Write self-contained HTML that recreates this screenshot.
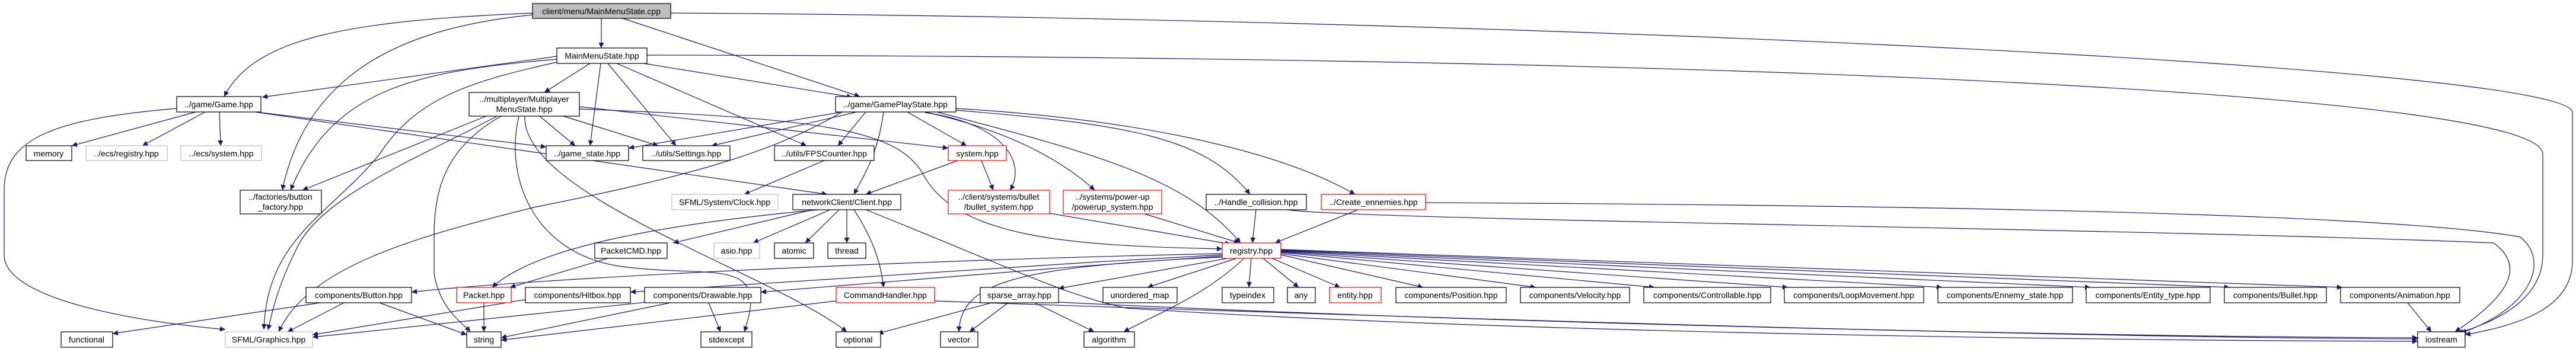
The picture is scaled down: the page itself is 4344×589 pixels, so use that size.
<!DOCTYPE html>
<html><head><meta charset="utf-8"><style>
html,body{margin:0;padding:0;background:#fff;}
svg{display:block;}
text{font-family:"Liberation Sans",sans-serif;font-size:14px;fill:#000;text-anchor:middle;}
.e{fill:none;stroke:#191970;stroke-width:1.2;marker-end:url(#a);}
.n{fill:#fff;stroke:#000;stroke-width:1.2;}
.g{fill:#fff;stroke:#bfbfbf;stroke-width:1.2;}
.r{fill:#fff;stroke:#ff0000;stroke-width:1.2;}
</style></head><body>
<svg width="4344" height="589" viewBox="0 0 4344 589" xmlns="http://www.w3.org/2000/svg">
<defs><marker id="a" viewBox="0 0 10 10" refX="10" refY="5" markerWidth="11" markerHeight="9" markerUnits="userSpaceOnUse" orient="auto"><path d="M0,0 L10,5 L0,10 z" fill="#191970"/></marker></defs>
<g>
<path class="e" d="M1014 31 L1014 81"/>
<path class="e" d="M898 22 C600 35 430 60 378 163"/>
<path class="e" d="M898 25 C700 45 520 110 476 321"/>
<path class="e" d="M1050 31 L1450 163"/>
<path class="e" d="M1131 22 C2500 30 4338 110 4338 190 L4338 440 C4338 520 4250 548 4157 565"/>
<path class="e" d="M939 95 L442 164"/>
<path class="e" d="M995 107 L918 156"/>
<path class="e" d="M1013 107 L995 246"/>
<path class="e" d="M1025 107 L1140 246"/>
<path class="e" d="M1040 107 L1360 246"/>
<path class="e" d="M1085 107 L1437 164"/>
<path class="e" d="M939 100 C700 120 560 150 490 321"/>
<path class="e" d="M939 105 C780 140 700 170 640 260 C560 360 450 400 445 556"/>
<path class="e" d="M1091 93 C3000 95 4288 160 4288 260 L4288 430 C4288 500 4220 540 4145 562"/>
<path class="e" d="M330 189 L121 246"/>
<path class="e" d="M346 189 L240 246"/>
<path class="e" d="M370 189 L372 246"/>
<path class="e" d="M298 183 C100 200 7 230 7 320 L7 430 C7 500 200 540 380 556"/>
<path class="e" d="M440 190 L921 248"/>
<path class="e" d="M430 189 L1395 328"/>
<path class="e" d="M910 196 L970 246"/>
<path class="e" d="M950 196 L1110 246"/>
<path class="e" d="M820 196 L510 321"/>
<path class="e" d="M838 196 C720 260 540 330 500 420 C470 480 460 520 452 557"/>
<path class="e" d="M845 196 C750 250 732 320 732 400 L732 460 C740 520 780 545 793 560"/>
<path class="e" d="M875 196 C850 300 900 430 1050 450 C1200 470 1300 430 1255 560"/>
<path class="e" d="M885 196 C880 330 1300 460 1428 560"/>
<path class="e" d="M977 180 L1599 250"/>
<path class="e" d="M977 184 C1400 200 1520 220 1560 300 C1620 400 1800 415 2061 420"/>
<path class="e" d="M1420 189 L1060 250"/>
<path class="e" d="M1445 189 L1200 246"/>
<path class="e" d="M1460 189 L1413 246"/>
<path class="e" d="M1490 189 C1480 260 1460 290 1440 328"/>
<path class="e" d="M1530 189 L1630 246"/>
<path class="e" d="M1560 190 C1700 210 1730 280 1703 321"/>
<path class="e" d="M1560 189 C1700 220 1790 270 1846 321"/>
<path class="e" d="M1580 189 C1850 260 2000 300 2092 410"/>
<path class="e" d="M1612 186 C1900 210 2030 230 2108 328"/>
<path class="e" d="M1612 183 C1900 200 2150 250 2285 328"/>
<path class="e" d="M1420 189 C1300 260 1150 300 900 350 C700 400 520 450 470 560"/>
<path class="e" d="M1390 271 L1255 328"/>
<path class="e" d="M1615 271 L1460 328"/>
<path class="e" d="M1655 271 L1675 321"/>
<path class="e" d="M1370 354 L1135 410"/>
<path class="e" d="M1380 354 C1100 380 900 420 830 485"/>
<path class="e" d="M1400 354 L1270 410"/>
<path class="e" d="M1415 354 L1358 410"/>
<path class="e" d="M1428 354 L1428 410"/>
<path class="e" d="M1440 354 C1470 400 1485 440 1490 485"/>
<path class="e" d="M1460 354 C1700 450 1800 500 1900 520 C2500 560 3500 575 4077 576"/>
<path class="e" d="M1770 360 L2075 412"/>
<path class="e" d="M1930 361 L2090 410"/>
<path class="e" d="M2118 354 L2112 410"/>
<path class="e" d="M2290 354 L2150 410"/>
<path class="e" d="M2170 354 C2300 372 3600 385 4205 410 C4260 450 4230 500 4140 560"/>
<path class="e" d="M2404 342 C3000 345 4000 355 4250 400 C4300 440 4270 520 4150 562"/>
<path class="e" d="M2061 428 C1500 440 900 470 694 493"/>
<path class="e" d="M2061 430 C1700 450 1300 475 1063 493"/>
<path class="e" d="M2061 432 C1800 450 1500 475 1283 493"/>
<path class="e" d="M2070 436 L1785 487"/>
<path class="e" d="M2085 436 L1935 485"/>
<path class="e" d="M2110 436 L2106 485"/>
<path class="e" d="M2130 436 L2190 485"/>
<path class="e" d="M2145 436 L2260 485"/>
<path class="e" d="M2160 430 L2400 485"/>
<path class="e" d="M2160 428 L2590 485"/>
<path class="e" d="M2160 426 L2790 485"/>
<path class="e" d="M2160 425 L3015 485"/>
<path class="e" d="M2160 424 L3275 485"/>
<path class="e" d="M2160 423 L3525 485"/>
<path class="e" d="M2160 422 L3760 485"/>
<path class="e" d="M2160 421 L3950 485"/>
<path class="e" d="M2061 434 C1700 450 1620 480 1617 560"/>
<path class="e" d="M2098 436 C2030 500 1950 530 1895 560"/>
<path class="e" d="M540 511 L190 563"/>
<path class="e" d="M580 511 L485 560"/>
<path class="e" d="M640 511 L787 565"/>
<path class="e" d="M816 511 L816 560"/>
<path class="e" d="M1025 436 L860 485"/>
<path class="e" d="M890 505 L527 565"/>
<path class="e" d="M1100 509 L527 569"/>
<path class="e" d="M1130 511 L845 570"/>
<path class="e" d="M1195 511 L1215 560"/>
<path class="e" d="M1410 508 L845 574"/>
<path class="e" d="M1576 508 C2500 540 3500 570 4077 572"/>
<path class="e" d="M1672 511 L1480 563"/>
<path class="e" d="M1700 511 L1635 560"/>
<path class="e" d="M1745 511 L1845 560"/>
<path class="e" d="M1785 510 C2500 545 3500 568 4077 570"/>
<path class="e" d="M4060 511 L4100 560"/>
</g>
<g>
<rect x="898" y="6" width="233" height="25" fill="#bfbfbf" stroke="#000" stroke-width="1.2"/><text x="1014" y="24">client/menu/MainMenuState.cpp</text>
<rect class="n" x="939" y="81" width="152" height="26"/><text x="1015" y="99">MainMenuState.hpp</text>
<rect class="n" x="298" y="163" width="142" height="26"/><text x="369" y="181">../game/Game.hpp</text>
<rect class="n" x="791" y="156" width="186" height="40"/><text x="884" y="172">../multiplayer/Multiplayer</text><text x="884" y="189">MenuState.hpp</text>
<rect class="n" x="1409" y="163" width="203" height="26"/><text x="1510" y="181">../game/GamePlayState.hpp</text>
<rect class="n" x="44" y="246" width="77" height="25"/><text x="82" y="264">memory</text>
<rect class="g" x="145" y="246" width="137" height="25"/><text x="213" y="264">../ecs/registry.hpp</text>
<rect class="g" x="305" y="246" width="136" height="25"/><text x="373" y="264">../ecs/system.hpp</text>
<rect class="n" x="921" y="246" width="139" height="25"/><text x="990" y="264">../game_state.hpp</text>
<rect class="n" x="1084" y="246" width="147" height="25"/><text x="1157" y="264">../utils/Settings.hpp</text>
<rect class="n" x="1306" y="246" width="168" height="25"/><text x="1390" y="264">../utils/FPSCounter.hpp</text>
<rect class="r" x="1599" y="246" width="98" height="25"/><text x="1648" y="264">system.hpp</text>
<rect class="n" x="405" y="321" width="137" height="40"/><text x="473" y="337">../factories/button</text><text x="473" y="354">_factory.hpp</text>
<rect class="g" x="1133" y="328" width="179" height="26"/><text x="1222" y="346">SFML/System/Clock.hpp</text>
<rect class="n" x="1337" y="328" width="182" height="26"/><text x="1428" y="346">networkClient/Client.hpp</text>
<rect class="r" x="1599" y="321" width="171" height="40"/><text x="1684" y="337">../client/systems/bullet</text><text x="1684" y="354">/bullet_system.hpp</text>
<rect class="r" x="1793" y="321" width="166" height="40"/><text x="1876" y="337">../systems/power-up</text><text x="1876" y="354">/powerup_system.hpp</text>
<rect class="n" x="2034" y="328" width="169" height="26"/><text x="2118" y="346">../Handle_collision.hpp</text>
<rect class="r" x="2228" y="328" width="176" height="26"/><text x="2316" y="346">../Create_ennemies.hpp</text>
<rect class="n" x="1003" y="410" width="122" height="26"/><text x="1064" y="428">PacketCMD.hpp</text>
<rect class="g" x="1204" y="410" width="77" height="26"/><text x="1242" y="428">asio.hpp</text>
<rect class="n" x="1306" y="410" width="66" height="26"/><text x="1339" y="428">atomic</text>
<rect class="n" x="1396" y="410" width="64" height="26"/><text x="1428" y="428">thread</text>
<rect class="r" x="2061" y="410" width="99" height="26"/><text x="2110" y="428">registry.hpp</text>
<rect class="n" x="516" y="485" width="178" height="26"/><text x="605" y="503">components/Button.hpp</text>
<rect class="r" x="770" y="485" width="92" height="26"/><text x="816" y="503">Packet.hpp</text>
<rect class="n" x="886" y="485" width="177" height="26"/><text x="974" y="503">components/Hitbox.hpp</text>
<rect class="n" x="1087" y="485" width="196" height="26"/><text x="1185" y="503">components/Drawable.hpp</text>
<rect class="r" x="1410" y="485" width="166" height="26"/><text x="1493" y="503">CommandHandler.hpp</text>
<rect class="n" x="1653" y="485" width="132" height="26"/><text x="1719" y="503">sparse_array.hpp</text>
<rect class="n" x="1860" y="485" width="125" height="26"/><text x="1922" y="503">unordered_map</text>
<rect class="n" x="2061" y="485" width="87" height="26"/><text x="2104" y="503">typeindex</text>
<rect class="n" x="2171" y="485" width="47" height="26"/><text x="2194" y="503">any</text>
<rect class="r" x="2242" y="485" width="87" height="26"/><text x="2285" y="503">entity.hpp</text>
<rect class="n" x="2354" y="485" width="186" height="26"/><text x="2447" y="503">components/Position.hpp</text>
<rect class="n" x="2564" y="485" width="184" height="26"/><text x="2656" y="503">components/Velocity.hpp</text>
<rect class="n" x="2772" y="485" width="214" height="26"/><text x="2879" y="503">components/Controllable.hpp</text>
<rect class="n" x="3009" y="485" width="235" height="26"/><text x="3126" y="503">components/LoopMovement.hpp</text>
<rect class="n" x="3268" y="485" width="227" height="26"/><text x="3381" y="503">components/Ennemy_state.hpp</text>
<rect class="n" x="3518" y="485" width="209" height="26"/><text x="3622" y="503">components/Entity_type.hpp</text>
<rect class="n" x="3751" y="485" width="172" height="26"/><text x="3837" y="503">components/Bullet.hpp</text>
<rect class="n" x="3947" y="485" width="201" height="26"/><text x="4047" y="503">components/Animation.hpp</text>
<rect class="n" x="103" y="560" width="87" height="26"/><text x="146" y="578">functional</text>
<rect class="g" x="380" y="560" width="147" height="26"/><text x="453" y="578">SFML/Graphics.hpp</text>
<rect class="n" x="787" y="560" width="58" height="26"/><text x="816" y="578">string</text>
<rect class="n" x="1182" y="560" width="86" height="26"/><text x="1225" y="578">stdexcept</text>
<rect class="n" x="1410" y="560" width="75" height="26"/><text x="1447" y="578">optional</text>
<rect class="n" x="1586" y="560" width="63" height="26"/><text x="1617" y="578">vector</text>
<rect class="n" x="1828" y="560" width="85" height="26"/><text x="1870" y="578">algorithm</text>
<rect class="n" x="4077" y="560" width="80" height="26"/><text x="4117" y="578">iostream</text>
</g>
</svg>
</body></html>
